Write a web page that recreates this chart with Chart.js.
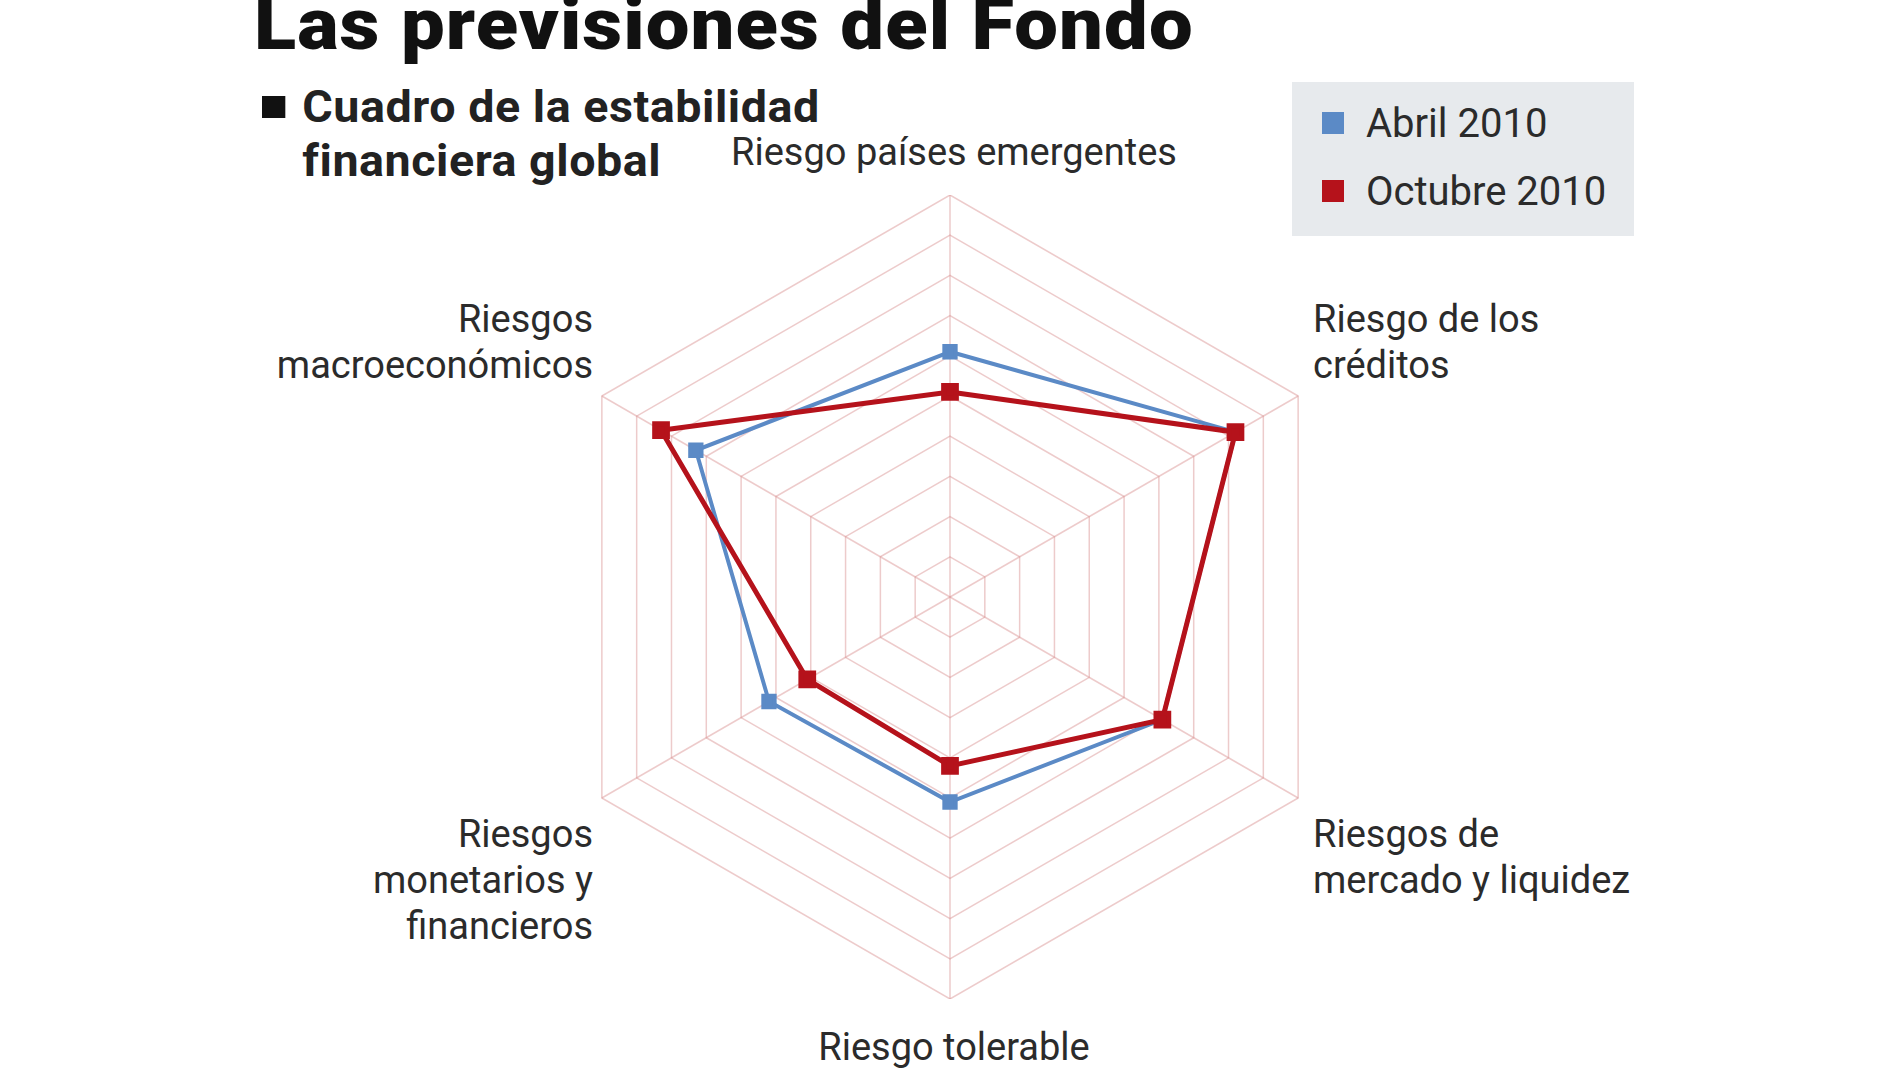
<!DOCTYPE html>
<html>
<head>
<meta charset="utf-8">
<script src="https://cdn.jsdelivr.net/npm/chart.js@4/dist/chart.umd.min.js"></script>
<style>
  body { margin: 0; width: 1900px; height: 1069px; background: #fff; position: relative; overflow: hidden;
         font-family: "Liberation Sans Narrow", "Roboto", sans-serif; color: #2b2b2b; }
  .t { position: absolute; white-space: nowrap; }
  #title { left: 254px; top: -18px; font-size: 72px; font-weight: 900; color: #111; font-family: "Roboto", sans-serif;
           letter-spacing: 1px; transform: scaleX(1.08); transform-origin: left top; }
  #sub { left: 262px; top: 80px; font-size: 44px; font-weight: bold; line-height: 54px; color: #222; letter-spacing: 0.5px;
         transform: scaleX(1.06); transform-origin: left top; }
  #sub span { display: inline-block; width: 22px; height: 22px; background: #111; margin-right: 16px; vertical-align: 4px; }
  .lab { font-size: 38px; line-height: 46px; }
  #legend { position: absolute; left: 1292px; top: 82px; width: 342px; height: 154px; background: #e7eaed; }
  #legend div { position: absolute; left: 30px; font-size: 40px; }
  #legend i { display: inline-block; width: 22px; height: 22px; margin-right: 22px; vertical-align: 3px; }
  #wrap { position: absolute; left: 548px; top: 195px; width: 804px; height: 804px; }
</style>
</head>
<body>
<div class="t" id="title">Las previsiones del Fondo</div>
<div class="t" id="sub"><span></span>Cuadro de la estabilidad<br><span style="visibility:hidden"></span>financiera global</div>
<div id="legend">
  <div style="top:18px"><i style="background:#5b8ac6"></i>Abril 2010</div>
  <div style="top:86px"><i style="background:#b5121b"></i>Octubre 2010</div>
</div>
<div class="t lab" style="left:954px; top:129px; transform:translateX(-50%)">Riesgo países emergentes</div>
<div class="t lab" style="left:1313px; top:296px">Riesgo de los<br>créditos</div>
<div class="t lab" style="left:1313px; top:811px">Riesgos de<br>mercado y liquidez</div>
<div class="t lab" style="left:954px; top:1024px; transform:translateX(-50%)">Riesgo tolerable</div>
<div class="t lab" style="right:1307px; top:811px; text-align:right">Riesgos<br>monetarios y<br>financieros</div>
<div class="t lab" style="right:1307px; top:296px; text-align:right">Riesgos<br>macroeconómicos</div>
<div id="wrap"><canvas id="c" width="804" height="804"></canvas></div>
<script>
// categorías y valores (escala 0-10)
const categorias = ['Riesgo países emergentes', 'Riesgo de los créditos', 'Riesgos de mercado y liquidez',
                    'Riesgo tolerable', 'Riesgos monetarios y financieros', 'Riesgos macroeconómicos'];
const abril2010 = [6.1, 8.2, 6.1, 5.1, 5.2, 7.3];
const octubre2010 = [5.1, 8.2, 6.1, 4.2, 4.1, 8.3];

new Chart(document.getElementById('c'), {
  type: 'radar',
  data: {
    labels: categorias,
    datasets: [
      { label: 'Abril 2010', data: abril2010, order: 1, borderColor: '#5b8ac6', backgroundColor: 'transparent',
        borderWidth: 4, pointStyle: 'rect', pointRadius: 8, pointBackgroundColor: '#5b8ac6', pointBorderColor: '#5b8ac6' },
      { label: 'Octubre 2010', data: octubre2010, order: 0, borderColor: '#b5121b', backgroundColor: 'transparent',
        borderWidth: 5, pointStyle: 'rect', pointRadius: 9, pointBackgroundColor: '#b5121b', pointBorderColor: '#b5121b' }
    ]
  },
  options: {
    responsive: false,
    animation: false,
    layout: { padding: 0 },
    plugins: { legend: { display: false }, tooltip: { enabled: false } },
    scales: {
      r: {
        min: 0, max: 10,
        ticks: { display: false, stepSize: 1 },
        pointLabels: { display: false },
        grid: { color: 'rgba(215,140,140,0.45)', lineWidth: 1.5 },
        angleLines: { color: 'rgba(215,140,140,0.45)', lineWidth: 1.5 }
      }
    }
  }
});
</script>
</body>
</html>
